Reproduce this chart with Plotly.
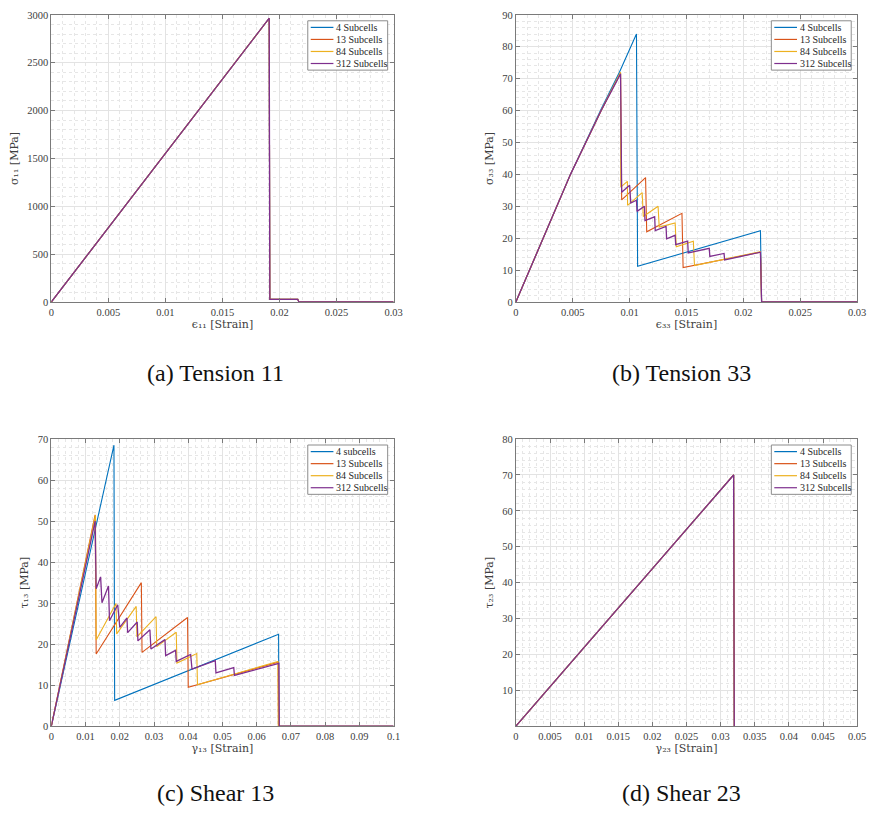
import plotly.graph_objects as go

# Series names, colours (MATLAB default order)
names = ["4 Subcells", "13 Subcells", "84 Subcells", "312 Subcells"]
names_s13 = ["4 subcells", "13 Subcells", "84 Subcells", "312 Subcells"]
colors = ["#0072BD", "#D95319", "#EDB120", "#7E2F8E"]
widths = [1.1, 1.1, 1.1, 1.3]

# ---- Tension 11 (all subcell counts give the same curve) ----
t11_strain = [0, 0.0191, 0.01915, 0.0216, 0.0217, 0.03]
t11_stress = [0, 2965, 28, 28, 0, 0]

# ---- Tension 33 ----
t33_strain_4 = [0, 0.0048, 0.0075, 0.0091, 0.0106, 0.0107, 0.0215, 0.0216, 0.03]
t33_stress_4 = [0, 40, 60.5, 72, 84, 11.2, 22.3, 0, 0]
t33_strain_13 = [0, 0.0048, 0.0075, 0.0092, 0.0093, 0.0114, 0.0115, 0.0146, 0.0147,
                 0.0215, 0.0216, 0.03]
t33_stress_13 = [0, 40, 60, 71.8, 32, 39, 22, 27.8, 10.8, 15.6, 0, 0]
t33_strain_84 = [0, 0.0048, 0.0075, 0.0092, 0.00922, 0.0098, 0.00982, 0.0111, 0.0112,
                 0.0125, 0.0126, 0.0140, 0.0141, 0.0156, 0.0157, 0.0215, 0.0216, 0.03]
t33_stress_84 = [0, 40, 60, 72, 36, 37.8, 30.3, 34.3, 26.8, 30, 23.5, 24.8, 17.3, 19,
                 11.4, 15.8, 0, 0]
t33_strain_312 = [0, 0.0048, 0.0075, 0.0092, 0.0093, 0.0100, 0.0101, 0.0106, 0.01065,
                  0.0113, 0.01135, 0.0122, 0.01225, 0.0132, 0.01325, 0.0140, 0.01405,
                  0.0151, 0.01515, 0.0170, 0.01705, 0.0183, 0.01835, 0.0215, 0.0216, 0.03]
t33_stress_312 = [0, 40, 60, 71.5, 34.4, 36.6, 31.0, 31.9, 28.4, 30.0, 25.5, 26.7, 22.4,
                  23.7, 19.8, 20.9, 18.0, 19.1, 15.4, 16.8, 14.3, 15.2, 13.2, 15.6, 0, 0]

# ---- Shear 13 ----
s13_strain_4 = [0, 0.0132, 0.0183, 0.0185, 0.0664, 0.0665, 0.1]
s13_stress_4 = [0, 50, 68.5, 6.3, 22.4, 0, 0]
s13_strain_13 = [0, 0.0128, 0.0131, 0.0263, 0.0265, 0.0398, 0.0400, 0.0663, 0.0664, 0.1]
s13_stress_13 = [0, 51.5, 17.6, 35, 18, 26.5, 9.5, 15.6, 0, 0]
s13_strain_84 = [0, 0.0129, 0.0131, 0.0189, 0.0191, 0.0248, 0.0250, 0.0306, 0.0308,
                 0.0365, 0.0367, 0.0425, 0.0427, 0.0662, 0.0663, 0.1]
s13_stress_84 = [0, 51.5, 21, 29.9, 22.5, 29.2, 21.8, 26.7, 19.4, 22.9, 15.4, 17.7, 10.1,
                 15.8, 0, 0]
s13_strain_312 = [0, 0.0128, 0.0131, 0.0144, 0.0148, 0.0167, 0.0170, 0.0194, 0.0200,
                  0.0221, 0.0223, 0.0251, 0.0253, 0.0288, 0.0291, 0.0332, 0.0334, 0.0363,
                  0.0365, 0.0407, 0.0411, 0.0479, 0.0481, 0.0533, 0.0535, 0.0665, 0.0666, 0.1]
s13_stress_312 = [0, 50, 33.5, 36.4, 30.1, 34.2, 25.7, 29.6, 24.1, 26.4, 22.8, 25.4, 20.8,
                  23.5, 18.8, 21.1, 17.2, 18.5, 15.8, 17.5, 13.9, 16.0, 13.0, 14.3, 12.4,
                  15.3, 0, 0]

# ---- Shear 23 (all subcell counts give the same curve) ----
s23_strain = [0, 0.0319, 0.0320]
s23_stress = [0, 70, 0]

captions = ["(a) Tension 11", "(b) Tension 33", "(c) Shear 13", "(d) Shear 23"]

panels = [
    dict(xs=[t11_strain] * 4, ys=[t11_stress] * 4, labels=names),
    dict(xs=[t33_strain_4, t33_strain_13, t33_strain_84, t33_strain_312],
         ys=[t33_stress_4, t33_stress_13, t33_stress_84, t33_stress_312], labels=names),
    dict(xs=[s13_strain_4, s13_strain_13, s13_strain_84, s13_strain_312],
         ys=[s13_stress_4, s13_stress_13, s13_stress_84, s13_stress_312], labels=names_s13),
    dict(xs=[s23_strain] * 4, ys=[s23_stress] * 4, labels=names),
]

W, H = 877, 819
# plot-area boxes in pixels: (left, right, top, bottom)
boxes = [(49, 396, 10, 301), (520, 866, 10, 301), (49, 396, 440, 731), (520, 866, 440, 731)]


def px(x):
    return x / W


def py(y):
    return 1 - y / H


fig = go.Figure()
for p, panel in enumerate(panels):
    sfx = "" if p == 0 else str(p + 1)
    for k in range(4):
        fig.add_trace(go.Scatter(
            x=panel["xs"][k], y=panel["ys"][k], mode="lines", name=panel["labels"][k],
            line=dict(color=colors[k], width=widths[k]),
            xaxis="x" + sfx, yaxis="y" + sfx, showlegend=False,
        ))

tick_font = dict(family="Liberation Serif", size=10.5, color="#404040")
title_font = dict(family="DejaVu Serif", size=11, color="#404040")
axis_cfg = [
    # x range, x dtick, x minor, y range, y dtick, y minor, y tickvals, x title, y title
    ([0, 0.03], 0.005, 0.001, [0, 3000], 500, 100, None,
     "ϵ₁₁ [Strain]", "σ₁₁ [MPa]"),
    ([0, 0.03], 0.005, 0.001, [0, 90], 10, 2, None,
     "ϵ₃₃ [Strain]", "σ₃₃ [MPa]"),
    ([0, 0.1], 0.01, 0.002, [0, 70], 10, 2, None,
     "γ₁₃ [Strain]", "τ₁₃ [MPa]"),
    ([0, 0.05], 0.005, 0.001, [0, 80], 10, 2, [10, 20, 30, 40, 50, 60, 70, 80],
     "γ₂₃ [Strain]", "τ₂₃ [MPa]"),
]

layout = dict(
    width=W, height=H, margin=dict(l=0, r=0, t=0, b=0),
    paper_bgcolor="white", plot_bgcolor="white", showlegend=False,
)
common = dict(
    showline=True, linecolor="#7a7a7a", linewidth=1, mirror="ticks",
    ticks="inside", ticklen=4, tickcolor="#7a7a7a", zeroline=False,
    showgrid=True, gridcolor="#e3e3e3", gridwidth=1, tickfont=tick_font,
)
shapes = []
annotations = []
legend_w, legend_h, row_h = 81, 50, 12.2
for p, (box, cfg, panel) in enumerate(zip(boxes, axis_cfg, panels)):
    l, r, t, b = box
    xr, xd, xm, yr, yd, ym, ytv, xt, yt = cfg
    sfx = "" if p == 0 else str(p + 1)
    layout["xaxis" + sfx] = dict(
        common, domain=[px(l), px(r)], range=xr, dtick=xd, tick0=0, anchor="y" + sfx,
        minor=dict(dtick=xm, showgrid=True, gridcolor="#e6e6e6", griddash="dot", gridwidth=1),
        title=dict(text=xt, font=title_font, standoff=0),
    )
    ycfg = dict(
        common, domain=[py(b), py(t)], range=yr, dtick=yd, tick0=0, anchor="x" + sfx,
        minor=dict(dtick=ym, showgrid=True, gridcolor="#e6e6e6", griddash="dot", gridwidth=1),
        title=dict(text=yt, font=title_font, standoff=6),
    )
    if ytv is not None:
        ycfg["tickvals"] = ytv
    layout["yaxis" + sfx] = ycfg

    # compact legend box in the upper-right corner of each panel
    lx0, ly0 = r - 6 - legend_w, t + 6
    shapes.append(dict(type="rect", xref="paper", yref="paper",
                       x0=px(lx0), x1=px(lx0 + legend_w), y0=py(ly0 + legend_h), y1=py(ly0),
                       line=dict(color="#8c8c8c", width=1), fillcolor="white", layer="above"))
    for k in range(4):
        cy = ly0 + 6.7 + k * row_h
        shapes.append(dict(type="line", xref="paper", yref="paper",
                           x0=px(lx0 + 3), x1=px(lx0 + 26), y0=py(cy), y1=py(cy),
                           line=dict(color=colors[k], width=1.2), layer="above"))
        annotations.append(dict(
            x=px(lx0 + 27), y=py(cy), xref="paper", yref="paper", text=panel["labels"][k],
            showarrow=False, xanchor="left", yanchor="middle",
            font=dict(family="Liberation Serif", size=10, color="#262626"),
        ))

caption_pos = [(215, 373), (688, 373), (215, 799), (688, 799)]
for text, (cx, cy) in zip(captions, caption_pos):
    annotations.append(dict(
        x=px(cx), y=py(cy), xref="paper", yref="paper", text=text, showarrow=False,
        xanchor="center", yanchor="middle",
        font=dict(family="Liberation Serif", size=24, color="#111111"),
    ))

layout["shapes"] = shapes
layout["annotations"] = annotations
fig.update_layout(**layout)

fig.write_html("out.html")
